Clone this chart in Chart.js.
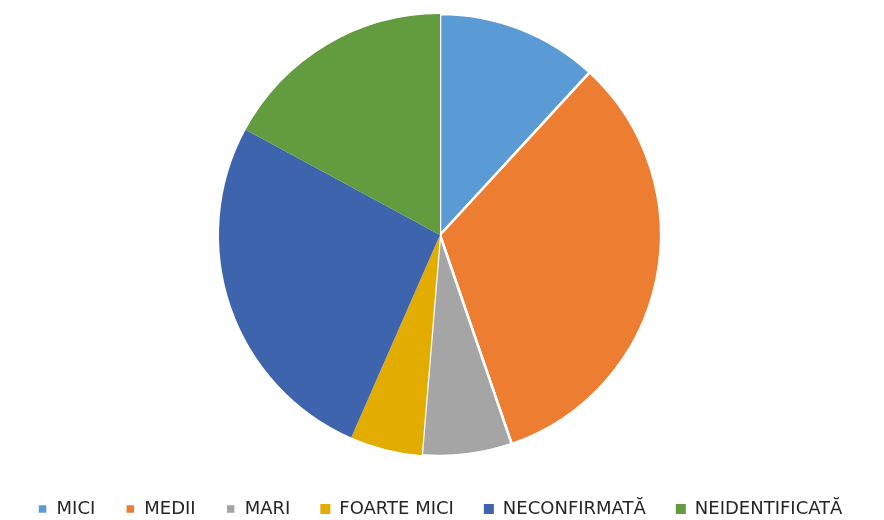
<!DOCTYPE html>
<html>
<head>
<meta charset="utf-8">
<script src="https://cdn.jsdelivr.net/npm/chart.js@4"></script>
<style>
  html, body { margin: 0; padding: 0; background: #fff; }
  #wrap { width: 884px; height: 520px; }
</style>
</head>
<body>
<div id="wrap"><canvas id="pieChart"></canvas></div>
<script>
const categories = ['MICI', 'MEDII', 'MARI', 'FOARTE MICI', 'NECONFIRMATĂ', 'NEIDENTIFICATĂ'];
const values = [9, 25, 5, 4, 20, 13];
const sliceColors = ['#5b9bd5', '#ed7d31', '#a5a5a5', '#e2ac00', '#3f64ae', '#629c3f'];
const sliceBorders = [2.5, 2.5, 2.5, 0, 0, 0];

// keep the legend on one row and fix its height
const legendFit = {
    id: 'legendFit',
    beforeInit(chart) {
        const legend = chart.legend;
        const origFit = legend.fit;
        legend.fit = function () {
            const w = this.maxWidth;
            this.maxWidth = 2000;
            origFit.call(this);
            this.maxWidth = w;
            this.width = w;
            this.height = 50;
        };
    }
};

const ctx = document.getElementById('pieChart').getContext('2d');
let pieChart = new Chart(ctx, {
    type: 'pie',
    data: {
        labels: categories,
        datasets: [{
            data: values,
            backgroundColor: sliceColors,
            borderColor: '#ffffff',
            borderWidth: sliceBorders
        }]
    },
    options: {
        responsive: true,
        maintainAspectRatio: false,
        animation: false,
        radius: 221,
        layout: {
            padding: { top: 0, right: 4, bottom: 0, left: 0 }
        },
        plugins: {
            tooltip: { enabled: false },
            legend: {
                position: 'bottom',
                labels: {
                    boxWidth: 10,
                    boxHeight: 10,
                    padding: 30,
                    color: '#262626',
                    font: { family: "'DejaVu Sans', sans-serif", size: 18 }
                }
            }
        }
    },
    plugins: [legendFit]
});
</script>
</body>
</html>
